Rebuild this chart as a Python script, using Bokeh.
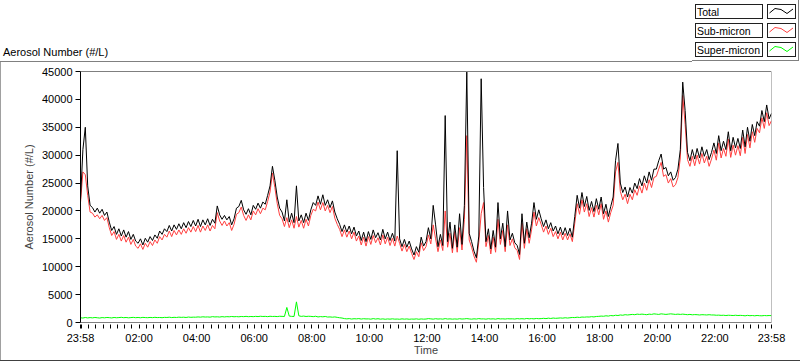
from bokeh.plotting import figure
from bokeh.layouts import column, row
from bokeh.models import Range1d, FixedTicker, Span, ColumnDataSource, Div
from bokeh.embed import file_html
from bokeh.resources import INLINE

# ---------------- data ----------------
# time in minutes after 23:58, every 5 minutes, 24 hours
minutes = list(range(0, 1441, 5))

total = [
    22000, 31000, 35000, 24500, 21000, 20600, 19800, 20500, 19600, 20300, 19200, 19800,
    18000, 16500, 17200, 15800, 16800, 15500, 16600, 15300, 16300, 14900, 15800, 14600,
    14200, 15000, 13900, 15100, 14400, 15400, 14700, 15700, 15100, 16400, 15800, 16800,
    16300, 17400, 16400, 17500, 16700, 17700, 16800, 17900, 17000, 18100, 17200, 18300,
    17300, 18500, 17200, 18400, 17500, 18600, 17400, 18500, 17800, 20900, 19300, 18500,
    19200, 18400, 19000, 17500, 18600, 20500, 20800, 21900, 20200, 19400, 20400, 19300,
    21000, 20300, 21400, 20500, 21600, 21200, 22800, 24500, 28000, 25500, 22500, 20500,
    19800, 18200, 22000, 18000, 19600, 17900, 24500, 18200, 19300, 17900, 19600, 18300,
    20200, 21500, 21000, 22700, 21200, 22900, 21000, 22000, 20600, 21800, 19800, 18600,
    17600, 16300, 17500, 16200, 17300, 15900, 17100, 15500, 16400, 14700, 16200, 14500,
    16300, 14900, 16600, 15200, 16100, 14800, 16700, 15000, 16200, 14700, 16000, 14600,
    30800, 15000, 13600, 14900, 13500, 14600, 13200, 12100, 13600, 12600, 15300, 13700,
    14500, 17000, 15000, 21000, 17500, 13600, 15800, 13800, 37100, 14500, 18000, 13300,
    17500, 13500, 19500, 14000, 21000, 44900, 16000, 14500, 12800, 11600, 15500, 43700,
    24200, 14500, 16800, 13200, 16500, 13500, 21500, 15000, 17800, 13600, 20000, 14800,
    16000, 14300, 13800, 12200, 19500, 14200, 18000, 15200, 17800, 21500, 18500, 20200,
    18600, 17200, 18400, 16800, 17900, 16400, 17300, 15900, 17100, 15700, 17000, 15600,
    16900, 15300, 19000, 22800, 20500, 23300, 20800, 22600, 20100, 21700, 19900, 22200,
    20300, 22500, 19500, 21200, 19000, 20800, 22500, 29000, 32100, 25000, 23300, 24300,
    22500, 24200, 23200, 25000, 24000, 25800, 24500, 26300, 25000, 27000, 25500, 27500,
    27500, 29000, 30200, 27500, 27800, 26300, 27000, 25500, 26000, 27500, 31000, 43100,
    38000, 30500, 29000, 31000, 29300, 31200, 29500, 31500, 29800, 31000, 29200, 30500,
    32200, 30300, 33500, 30800, 32500, 31000, 34200, 30800, 33200, 31300, 33000, 31200,
    34500, 31500, 35000, 32500, 35500, 33500, 36000, 35200, 38000, 36000, 39000, 36500, 37500,
]

sub_micron = [
    21500, 27000, 26500, 22800, 19800, 19600, 18900, 19300, 18600, 19200, 18300, 18800,
    17000, 15600, 16300, 14900, 15800, 14600, 15600, 14400, 15300, 14000, 14900, 13700,
    13300, 14100, 13100, 14200, 13500, 14500, 13800, 14800, 14200, 15400, 14800, 15800,
    15300, 16400, 15400, 16500, 15700, 16600, 15800, 16800, 16000, 17000, 16200, 17200,
    16300, 17400, 16200, 17300, 16500, 17500, 16400, 17400, 16800, 19700, 18200, 17400,
    18200, 17300, 17900, 16500, 17600, 19400, 19700, 20700, 19200, 18300, 19300, 18400,
    20000, 19300, 20400, 19500, 20500, 20200, 21700, 23400, 26800, 24200, 21300, 19200,
    18600, 17200, 18800, 17000, 18400, 16900, 19000, 17100, 18300, 16900, 18500, 17300,
    19200, 20300, 20000, 21600, 20200, 21500, 20000, 21000, 19700, 20800, 18700, 17600,
    16700, 15400, 16600, 15300, 16400, 15000, 16200, 14600, 15500, 13900, 15300, 13700,
    15400, 14000, 15600, 14300, 15200, 13900, 15700, 14100, 15300, 13800, 15100, 13700,
    15500, 14200, 12800, 14000, 12700, 13700, 12400, 11300, 12700, 11800, 14300, 12900,
    13600, 15700, 14100, 17500, 15000, 12700, 14800, 12900, 20000, 13500, 16000, 12500,
    16300, 12600, 17000, 13000, 18500, 33500, 14800, 13500, 11900, 10800, 14400, 19500,
    21500, 13600, 15600, 12300, 15300, 12600, 18500, 14000, 16500, 12700, 17500, 13800,
    15000, 13400, 12900, 11300, 17800, 13300, 16800, 14200, 16600, 19800, 17300, 18800,
    17600, 16200, 17300, 15800, 16900, 15400, 16300, 15000, 16200, 14800, 16000, 14800,
    15900, 14500, 17800, 21300, 19400, 22000, 19800, 21300, 19000, 20600, 18900, 21000,
    19300, 21300, 18500, 20000, 18000, 19700, 21000, 27000, 28700, 23500, 22000, 23000,
    21300, 23000, 22000, 23800, 22800, 24500, 23200, 25000, 23700, 25600, 24200, 26000,
    26200, 27500, 28700, 26200, 26500, 25000, 25800, 24300, 24700, 26000, 29500, 40700,
    35500, 29200, 28000, 29800, 28100, 30000, 28400, 30300, 28600, 29800, 28000, 29300,
    30900, 29100, 32200, 29500, 31200, 29800, 32900, 29600, 31800, 30000, 31700, 29900,
    33200, 30300, 33700, 31300, 34200, 32300, 34800, 34000, 36700, 34800, 37600, 35300, 36200,
]

super_micron = [
    850, 800, 900, 820, 880, 830, 900, 850, 800, 880, 840, 900,
    870, 820, 900, 850, 880, 930, 860, 900, 840, 880, 920, 860,
    900, 850, 920, 880, 860, 910, 870, 930, 880, 900, 860, 920,
    900, 950, 880, 930, 900, 960, 920, 950, 900, 980, 930, 960,
    950, 1000, 960, 1020, 980, 1000, 960, 1050, 1000, 1020, 980, 1050,
    1000, 1050, 1020, 1080, 1030, 1060, 1020, 1080, 1050, 1100, 1040, 1080,
    1050, 1100, 1060, 1120, 1080, 1100, 1050, 1120, 1080, 1100, 1060, 1120,
    1100, 1080, 2700, 1150, 1100, 1080, 3700, 1200, 1100, 1150, 1080, 1120,
    1100, 1050, 1120, 1000, 1060, 1020, 1080, 980, 1000, 950, 1000, 920,
    850, 800, 700, 650, 700, 620, 680, 650, 700, 620, 680, 640,
    650, 600, 700, 620, 680, 600, 650, 580, 640, 600, 660, 600,
    620, 580, 650, 600, 640, 580, 620, 600, 650, 580, 640, 600,
    620, 700, 650, 600, 680, 620, 650, 600, 700, 620, 650, 600,
    640, 600, 680, 620, 650, 700, 640, 600, 660, 620, 700, 640,
    650, 600, 680, 630, 660, 600, 700, 640, 660, 620, 680, 650,
    660, 620, 700, 650, 680, 640, 720, 660, 700, 650, 720, 680,
    700, 750, 700, 780, 720, 800, 750, 780, 820, 780, 850, 800,
    850, 900, 880, 950, 900, 980, 950, 1000, 980, 1050, 1000, 1080,
    1100, 1150, 1120, 1200, 1150, 1250, 1200, 1300, 1250, 1350, 1300, 1400,
    1350, 1400, 1450, 1400, 1500, 1450, 1500, 1450, 1400, 1500, 1450, 1550,
    1500, 1450, 1550, 1500, 1450, 1500, 1550, 1500, 1450, 1500, 1450, 1500,
    1450, 1400, 1450, 1380, 1420, 1400, 1350, 1400, 1380, 1350, 1400, 1350,
    1350, 1300, 1320, 1280, 1300, 1250, 1300, 1280, 1250, 1300, 1250, 1280,
    1250, 1200, 1280, 1220, 1250, 1200, 1260, 1220, 1200, 1250, 1220, 1250, 1230,
]

x_tick_minutes = [0, 122, 242, 362, 482, 602, 722, 842, 962, 1082, 1202, 1322, 1440]
x_tick_labels = ["23:58", "02:00", "04:00", "06:00", "08:00", "10:00", "12:00",
                 "14:00", "16:00", "18:00", "20:00", "22:00", "23:58"]
# minor ticks every 15 minutes of clock time (00:00, 00:15, ...)
x_minor_minutes = [m for m in range(2, 1440, 15) if m not in x_tick_minutes]
y_ticks = [0, 5000, 10000, 15000, 20000, 25000, 30000, 35000, 40000, 45000]

chart_title = "Aerosol Number (#/L)"
series_names = ["Total", "Sub-micron", "Super-micron"]
series_colors = ["#000000", "#ff3f3f", "#00ff00"]

FONT = "Liberation Sans"
FS = "11px"
W = 800
HEAD_H = 62
MAIN_H = 361 - HEAD_H - 1

# ---------------- header: title + legend (static SVG in a Div) ----------------
zig = [(2.5, 9), (8, 4.5), (14, 5.5), (20, 9.5), (26, 5)]
parts = [
    f'<svg xmlns="http://www.w3.org/2000/svg" width="{W}" height="{HEAD_H}" '
    f'style="display:block">',
    '<rect x="0" y="61" width="692" height="1" fill="#808080"/>',
    '<rect x="692" y="60" width="107" height="1" fill="#808080"/>',
    '<rect x="798" y="0" width="1" height="61" fill="#808080"/>',
    f'<text x="3" y="56" font-family="{FONT}" font-size="11px" fill="black">{chart_title}</text>',
]
for i, (name, col) in enumerate(zip(series_names, series_colors)):
    y0 = 4 + 19 * i
    parts.append(f'<rect x="695.5" y="{y0 + 0.5}" width="67" height="14" fill="white" '
                 f'stroke="#202020" stroke-width="1"/>')
    parts.append(f'<rect x="767.5" y="{y0 + 0.5}" width="28" height="14" fill="white" '
                 f'stroke="#202020" stroke-width="1"/>')
    parts.append(f'<text x="697" y="{y0 + 11.5}" font-family="{FONT}" font-size="10.5px" '
                 f'fill="black">{name}</text>')
    pts = " ".join(f"{767 + a},{y0 + b}" for a, b in zig)
    parts.append(f'<polyline points="{pts}" fill="none" stroke="{col}" stroke-width="1"/>')
parts.append('</svg>')

head = Div(text="".join(parts), width=W, height=HEAD_H, margin=0,
           styles={"padding": "0", "overflow": "hidden", "background-color": "white"})
left_edge = Div(text="", width=1, height=MAIN_H, margin=0,
                styles={"padding": "0", "background-color": "#a0a0a0"})
bottom_edge = Div(text="", width=W, height=1, margin=0,
                  styles={"padding": "0", "background-color": "#404040"})

# ---------------- main plot ----------------
BL, BR, BT, BB = 79, 29, 9, 38
PW = W - 1

p = figure(width=PW, height=MAIN_H, x_range=Range1d(0, 1440), y_range=Range1d(0, 45000),
           output_backend="svg", toolbar_location=None, title=None,
           min_border_left=BL, min_border_right=BR, min_border_top=BT, min_border_bottom=BB)
p.background_fill_color = "white"
p.border_fill_color = "white"
p.outline_line_color = None
p.xgrid.visible = False
p.ygrid.visible = False
p.stylesheets = ["path { shape-rendering: crispEdges; }"]

src = ColumnDataSource(dict(t=minutes, total=total, sub=sub_micron, sup=super_micron))
p.line("t", "sub", source=src, line_color=series_colors[1], line_width=1)
p.line("t", "total", source=src, line_color=series_colors[0], line_width=1)
p.line("t", "sup", source=src, line_color=series_colors[2], line_width=1)

# x axis
xa = p.xaxis[0]
xa.ticker = FixedTicker(ticks=x_tick_minutes, minor_ticks=x_minor_minutes)
xa.major_label_overrides = {t: s for t, s in zip(x_tick_minutes, x_tick_labels)}
xa.axis_line_color = "#808080"
xa.major_tick_in = -2
xa.major_tick_out = 6
xa.minor_tick_in = -2
xa.minor_tick_out = 6
xa.major_tick_line_color = "black"
xa.minor_tick_line_color = "black"
xa.major_label_standoff = 3
xa.major_label_text_font = FONT
xa.major_label_text_font_size = FS
xa.major_label_text_color = "black"
xa.axis_label = "Time"
xa.axis_label_text_font = FONT
xa.axis_label_text_font_size = FS
xa.axis_label_text_font_style = "normal"
xa.axis_label_standoff = -3

# y axis
ya = p.yaxis[0]
ya.ticker = FixedTicker(ticks=y_ticks, minor_ticks=[])
ya.axis_line_color = "black"
ya.major_tick_in = 0
ya.major_tick_out = 5
ya.minor_tick_line_color = None
ya.major_tick_line_color = "black"
ya.major_label_standoff = 3
ya.major_label_text_font = FONT
ya.major_label_text_font_size = FS
ya.major_label_text_color = "black"
ya.axis_label = chart_title
ya.axis_label_text_font = FONT
ya.axis_label_text_font_size = FS
ya.axis_label_text_font_style = "normal"
ya.axis_label_standoff = 4

# frame top (black) and right (gray) edges
p.add_layout(Span(location=45000, dimension="width", line_color="black", line_width=1))
p.add_layout(Span(location=1440, dimension="height", line_color="#808080", line_width=1))

layout = column(head, row(left_edge, p, spacing=0), bottom_edge, spacing=0)

html = file_html(layout, INLINE, title="Aerosol Number")
html = html.replace("<head>", "<head><style>html,body{margin:0;padding:0;overflow:hidden;}</style>", 1)
open("out.html", "w").write(html)
